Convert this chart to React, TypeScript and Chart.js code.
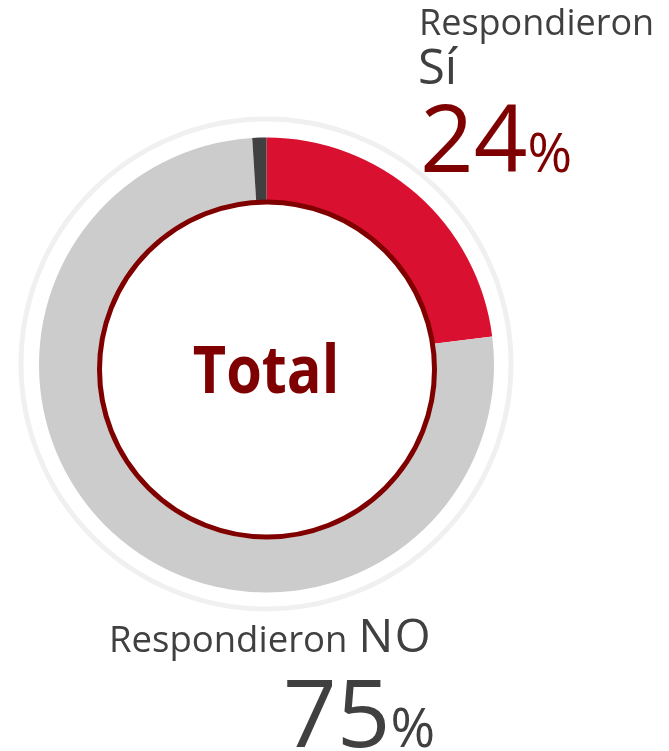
import React, { useEffect, useRef } from "react";
import { Chart, registerables } from "chart.js";

Chart.register(...registerables);

// Data
const categories = ["Respondieron Sí", "Respondieron No", "Otro"];
const segmentValues = [23, 76, 1]; // arc shares as drawn
const labelPercents = [24, 75]; // printed labels
const segmentColors = ["#D91030", "#CCCCCC", "#404040"];
const centerLabel = "Total";

const ringPlugin = {
  id: "rings",
  beforeDatasetsDraw(chart: any) {
    const arc = chart.getDatasetMeta(0).data[0];
    if (!arc) return;
    const ctx = chart.ctx;
    const { x, y, outerRadius } = arc.getProps(["x", "y", "outerRadius"], true);
    ctx.save();
    ctx.beginPath();
    ctx.arc(x - 0.5, y - 1, outerRadius + 17.5, 0, Math.PI * 2);
    ctx.strokeStyle = "#F0F0F0";
    ctx.lineWidth = 5;
    ctx.stroke();
    ctx.restore();
  },
  afterDatasetsDraw(chart: any) {
    const arc = chart.getDatasetMeta(0).data[0];
    if (!arc) return;
    const ctx = chart.ctx;
    const { x, y, outerRadius } = arc.getProps(["x", "y", "outerRadius"], true);
    ctx.save();
    ctx.beginPath();
    ctx.arc(x + 0.5, y + 4.5, outerRadius - 60, 0, Math.PI * 2);
    ctx.fillStyle = "#FFFFFF";
    ctx.fill();
    ctx.strokeStyle = "#800000";
    ctx.lineWidth = 5;
    ctx.stroke();
    ctx.restore();
  },
};

export default function App() {
  const ref = useRef<HTMLCanvasElement | null>(null);

  useEffect(() => {
    if (!ref.current) return;
    const chart = new Chart(ref.current, {
      type: "doughnut",
      data: {
        labels: categories,
        datasets: [
          {
            data: segmentValues,
            backgroundColor: segmentColors,
            borderWidth: 0,
          },
        ],
      },
      options: {
        animation: false,
        responsive: false,
        cutout: "68%",
        layout: { padding: { left: 39, right: 175, top: 137.5, bottom: 158.5 } },
        plugins: {
          legend: { display: false },
          tooltip: { enabled: false },
        },
      },
      plugins: [ringPlugin],
    });
    return () => chart.destroy();
  }, []);

  const font = "'Open Sans', sans-serif";
  const gray = "#404040";
  const red = "#7F0000";
  const abs = (left: number, top: number, size: number, color: string, extra: any = {}) => ({
    position: "absolute" as const,
    left,
    top,
    fontSize: size,
    lineHeight: 1,
    color,
    fontFamily: font,
    whiteSpace: "nowrap" as const,
    ...extra,
  });

  return (
    <div style={{ position: "fixed", left: 0, top: 0, width: 669, height: 751, background: "#fff", overflow: "hidden" }}>
      <canvas ref={ref} width={669} height={751} style={{ position: "absolute", left: 0, top: 0, width: 669, height: 751 }} />
      <div style={abs(419, 4, 36, gray)}>Respondieron</div>
      <div style={abs(418, 40.5, 49, gray)}>Sí</div>
      <div style={abs(420, 88.5, 94, red)}>
        {labelPercents[0]}
        <span style={{ fontSize: 54 }}>%</span>
      </div>
      <div style={abs(109, 620, 36.5, gray)}>Respondieron</div>
      <div style={abs(358.5, 611, 46, gray, { textTransform: "uppercase", letterSpacing: 1.5 })}>No</div>
      <div style={abs(283, 663.5, 94, gray)}>
        {labelPercents[1]}
        <span style={{ fontSize: 54 }}>%</span>
      </div>
      <div
        style={abs(66, 333.5, 67, red, {
          width: 400,
          textAlign: "center",
          fontWeight: 700,
          transform: "scaleX(0.86)",
          transformOrigin: "200px 0",
        })}
      >
        {centerLabel}
      </div>
    </div>
  );
}
